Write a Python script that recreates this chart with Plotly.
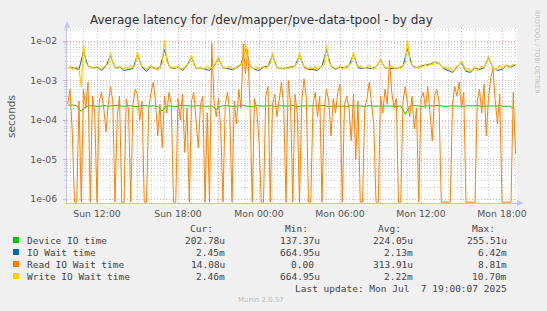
import plotly.graph_objects as go
import pandas as pd

# ---------------- data ----------------
# Write IO wait time, milliseconds, every 10 min from Sun 09:50
write_ms = [
    2.0, 2.3, 1.9, 2.1, 2.2, 2.0, 0.68, 8.0, 2.9, 2.4, 2.1, 2.2,
    2.0, 2.3, 2.1, 1.9, 2.2, 2.4, 2.6, 5.0, 2.8, 2.2, 2.0, 2.3,
    2.1, 1.9, 2.2, 2.0, 2.4, 2.1, 2.5, 5.2, 3.0, 2.3, 2.1, 1.9,
    2.2, 2.4, 2.0, 2.1, 1.8, 2.3, 2.6, 10.5, 3.2, 2.4, 2.0, 2.2,
    2.1, 2.3, 1.9, 2.0, 2.2, 2.5, 2.8, 4.4, 2.6, 2.1, 2.0, 2.2,
    1.9, 2.1, 2.3, 2.0, 2.2, 2.4, 2.9, 4.0, 2.7, 2.2, 2.0, 2.1,
    2.3, 2.0, 1.9, 2.2, 2.4, 2.6, 3.0, 9.0, 3.3, 2.5, 2.1, 2.0,
    2.2, 1.9, 2.1, 2.3, 2.0, 2.4, 2.7, 5.0, 2.8, 2.2, 2.0, 2.1,
    1.9, 2.2, 2.0, 2.3, 2.1, 2.4, 2.8, 5.0, 2.9, 2.3, 2.1, 2.0,
    2.2, 2.0, 2.3, 1.9, 2.1, 2.4, 2.6, 8.0, 3.1, 2.4, 2.2, 2.0,
    2.1, 2.3, 1.9, 2.2, 2.0, 2.5, 2.7, 5.3, 2.8, 2.2, 2.4, 2.1,
    2.0, 2.2, 2.5, 2.1, 1.9, 2.3, 2.6, 3.5, 2.6, 2.2, 2.0, 2.1,
    2.3, 2.1, 1.9, 2.2, 2.0, 2.4, 2.8, 10.7, 3.2, 2.5, 2.1, 2.2,
    2.0, 2.4, 2.2, 2.6, 2.3, 2.7, 2.5, 3.0, 2.6, 2.8, 2.3, 2.1,
    2.2, 1.9, 2.1, 1.7, 2.0, 2.3, 2.5, 3.1, 2.4, 1.8, 2.0, 1.7,
    1.9, 2.2, 1.8, 2.0, 2.3, 2.2, 2.7, 4.1, 2.8, 2.2, 1.9, 2.1,
    2.4, 2.0, 2.2, 2.5, 2.1, 2.3, 2.6, 2.46,
]

# Read IO wait time, microseconds, every 10 min from Sun 09:50 (0 = zero)
read_us = [
    250, 600, 50, 0, 0, 300, 0, 600, 200, 900,
    0, 400, 150, 0, 300, 500, 200, 50, 250, 700,
    300, 0, 120, 400, 0, 0, 350, 180, 0, 250,
    600, 450, 100, 300, 0, 0, 200, 500, 900, 300,
    40, 250, 20, 400, 150, 500, 250, 0, 0, 350,
    100, 450, 15, 200, 0, 300, 500, 100, 20, 250,
    400, 0, 150, 0, 8810, 300, 120, 350, 60, 0,
    250, 500, 150, 0, 300, 80, 600, 200, 8500, 1500,
    6000, 200, 0, 350, 180, 30, 0, 0, 400, 700,
    0, 250, 450, 120, 300, 900, 200, 0, 1000, 300,
    0, 450, 150, 0, 300, 1100, 400, 0, 0, 250,
    500, 120, 400, 0, 200, 600, 300, 40, 350, 150,
    500, 800, 0, 250, 400, 200, 30, 450, 10, 300,
    0, 0, 200, 350, 900, 250, 80, 0, 0, 400,
    150, 600, 250, 3300, 500, 200, 350, 0, 0, 300,
    700, 250, 120, 400, 60, 200, 0, 350, 500, 200,
    700, 150, 30, 400, 600, 300, 0, 0, 0, 0,
    0, 250, 700, 400, 900, 200, 500, 0, 0, 0,
    0, 0, 300, 600, 150, 800, 40, 350, 1200, 2000,
    300, 80, 450, 0, 0, 0, 0, 0, 500, 14.08,
]

# IO wait time, milliseconds, every 20 min from Sun 10:00
iowait_ms = [
    2.2, 2.0, 1.9, 5.5, 2.3, 2.1, 2.2, 1.8, 2.3, 4.2,
    2.1, 2.2, 1.8, 1.9, 2.0, 4.5, 2.2, 1.7, 2.3, 2.0,
    2.1, 6.0, 2.3, 2.0, 2.2, 1.8, 2.4, 3.9, 2.0, 2.1,
    1.9, 1.8, 2.3, 3.6, 2.1, 2.0, 1.9, 2.1, 2.5, 6.4,
    2.4, 1.9, 1.8, 2.2, 2.3, 4.4, 2.1, 2.0, 2.1, 2.2,
    2.3, 4.5, 2.2, 1.9, 1.9, 1.8, 2.3, 6.0, 2.3, 1.9,
    2.2, 2.1, 2.4, 4.6, 2.1, 2.0, 2.1, 2.0, 2.2, 3.3,
    2.1, 2.0, 2.0, 2.1, 2.3, 6.42, 2.4, 2.1, 2.3, 2.5,
    2.6, 2.9, 2.7, 2.0, 1.8, 1.6, 2.2, 2.9, 1.7, 1.6,
    2.1, 1.9, 2.1, 3.8, 2.1, 1.8, 1.9, 2.4, 2.2, 2.45,
]

# Device IO time, microseconds, every 20 min from Sun 09:50
device_us = [
    235, 242, 228, 165, 221, 230, 226, 219, 232, 224,
    228, 236, 222, 225, 231, 218, 227, 233, 224, 229,
    221, 168, 230, 226, 219, 234, 228, 222, 225, 231,
    227, 220, 229, 185, 224, 232, 226, 221, 228, 235,
    223, 218, 230, 227, 225, 233, 221, 229, 224, 226,
    232, 220, 227, 225, 230, 222, 228, 234, 219, 226,
    229, 224, 221, 231, 226, 228, 220, 233, 225, 227,
    222, 230, 226, 219, 228, 140, 224, 232, 227, 221,
    229, 226, 234, 224, 220, 228, 231, 225, 222, 230,
    227, 233, 221, 226, 229, 224, 232, 220, 226, 203,
]

legend_labels = ["Device IO time", "IO Wait time", "Read IO Wait time", "Write IO Wait time"]
legend_colors = ["#00CC00", "#0066B3", "#FF8000", "#FFCC00"]
cur_vals = ["202.78u", "2.45m", "14.08u", "2.46m"]
min_vals = ["137.37u", "664.95u", "0.00", "664.95u"]
avg_vals = ["224.05u", "2.13m", "313.91u", "2.22m"]
max_vals = ["255.51u", "6.42m", "8.81m", "10.70m"]

y_tickvals = [1e-6, 1e-5, 1e-4, 1e-3, 1e-2]
y_ticktext = ["1e-06", "1e-05", "1e-04", "1e-03", "1e-02"]
y_minor = [m * d for d in [1e-6, 1e-5, 1e-4, 1e-3, 1e-2] for m in range(2, 10)]

x_major = pd.date_range("2025-07-06 12:00", "2025-07-07 18:00", freq="3h")

# ---------------- geometry helpers ----------------
PL, PT, PW, PH = 67, 28, 450, 175   # plot area in px
W, H = 547, 311


def px(x):
    return (x - PL) / PW


def py(y):
    return (PT + PH - y) / PH


t10 = pd.date_range("2025-07-06 09:50", periods=len(write_ms), freq="10min")
t_blue = pd.date_range("2025-07-06 10:00", periods=len(iowait_ms), freq="20min")
t_green = pd.date_range("2025-07-06 09:50", periods=len(device_us), freq="20min")

ZERO_FLOOR = 10 ** -6.08   # zero values drawn at the bottom edge, as rrdtool does

fig = go.Figure()
fig.add_trace(go.Scatter(x=t_green, y=[v * 1e-6 for v in device_us], mode="lines",
                         line=dict(color=legend_colors[0], width=1)))
fig.add_trace(go.Scatter(x=t_blue, y=[v * 1e-3 for v in iowait_ms], mode="lines",
                         line=dict(color=legend_colors[1], width=1)))
fig.add_trace(go.Scatter(x=t10, y=[v * 1e-6 if v > 0 else ZERO_FLOOR for v in read_us], mode="lines",
                         line=dict(color=legend_colors[2], width=1)))
fig.add_trace(go.Scatter(x=t10, y=[v * 1e-3 for v in write_ms], mode="lines",
                         line=dict(color=legend_colors[3], width=1.2)))

major_grid = "#F0A8A8"
minor_grid = "#D0D0D0"
axis_col = "#C4C4F4"
tick_font = dict(family="DejaVu Sans", size=9.3, color="#555555")

fig.update_layout(
    width=W, height=H,
    margin=dict(l=PL, r=W - PL - PW, t=PT, b=H - PT - PH, pad=0),
    paper_bgcolor="#F0F0F0", plot_bgcolor="#FFFFFF",
    showlegend=False,
    xaxis=dict(
        type="date",
        range=["2025-07-06 09:46:40", "2025-07-07 19:06:40"],
        tickmode="array",
        tickvals=list(x_major),
        ticktext=[d.strftime("%a %H:%M") if d.hour % 6 == 0 else "" for d in x_major],
        showgrid=True, gridcolor=major_grid, griddash="1px,2px", gridwidth=1,
        minor=dict(tickmode="linear", tick0="2025-07-06 00:00", dtick=3600000,
                   showgrid=True, gridcolor=minor_grid, griddash="1px,2px", gridwidth=1),
        showline=True, linecolor=axis_col, linewidth=1,
        ticks="", zeroline=False, tickfont=tick_font, ticklabelstandoff=2,
    ),
    yaxis=dict(
        type="log",
        range=[-6.101, -1.671],
        tickmode="array", tickvals=y_tickvals, ticktext=y_ticktext,
        showgrid=True, gridcolor=major_grid, griddash="1px,2px", gridwidth=1,
        minor=dict(tickmode="array", tickvals=y_minor, showgrid=True, gridcolor=minor_grid,
                   griddash="1px,2px", gridwidth=1, ticks="outside", ticklen=2, tickcolor=minor_grid),
        showline=True, linecolor=axis_col, linewidth=1,
        ticks="outside", ticklen=3, tickcolor=major_grid,
        zeroline=False, tickfont=tick_font, ticklabelstandoff=4,
    ),
)

shapes = []
# axis arrows
shapes.append(dict(type="path", xref="paper", yref="paper",
                   path=f"M {px(64)} {py(28)} L {px(70)} {py(28)} L {px(67)} {py(21)} Z",
                   fillcolor=axis_col, line=dict(width=0)))
shapes.append(dict(type="path", xref="paper", yref="paper",
                   path=f"M {px(517)} {py(200)} L {px(517)} {py(206)} L {px(524)} {py(203)} Z",
                   fillcolor=axis_col, line=dict(width=0)))

annotations = []
annotations.append(dict(text="Average latency for /dev/mapper/pve-data-tpool - by day",
                        x=px(261), y=py(20), xref="paper", yref="paper", showarrow=False,
                        xanchor="center", yanchor="middle",
                        font=dict(family="DejaVu Sans", size=12, color="#333333")))
annotations.append(dict(text="seconds", x=px(11), y=py(117), xref="paper", yref="paper",
                        showarrow=False, textangle=-90, xanchor="center", yanchor="middle",
                        font=dict(family="DejaVu Sans", size=10.5, color="#555555")))
annotations.append(dict(text="RRDTOOL / TOBI OETIKER", x=px(537), y=py(52), xref="paper", yref="paper",
                        showarrow=False, textangle=90, xanchor="center", yanchor="middle",
                        font=dict(family="DejaVu Sans", size=6.5, color="#C0C0C0")))

mono = dict(family="DejaVu Sans Mono", size=9.5, color="#444444")


def txt(s, x, y, anchor):
    annotations.append(dict(text=s, x=px(x), y=py(y), xref="paper", yref="paper", showarrow=False,
                            xanchor=anchor, yanchor="middle", font=mono))


for head, xr in zip(["Cur:", "Min:", "Avg:", "Max:"], [215, 310, 403, 497]):
    txt(head, xr, 228, "right")

col_right = [227, 322, 415, 509]
for k, lab in enumerate(legend_labels):
    yrow = 240 + 12 * k
    shapes.append(dict(type="rect", xref="paper", yref="paper",
                       x0=px(13), x1=px(19), y0=py(yrow + 3), y1=py(yrow - 3),
                       fillcolor=legend_colors[k], line=dict(width=0)))
    txt(lab, 25, yrow, "left")
    for vals, xr in zip([cur_vals, min_vals, avg_vals, max_vals], col_right):
        v = vals[k]
        if v[-1].isdigit():
            v = v + "\u00a0"
        txt(v, xr, yrow, "right")

txt("Last update: Mon Jul\u00a0 7 19:00:07 2025", 509, 288, "right")
annotations.append(dict(text="Munin 2.0.57", x=px(261), y=py(300), xref="paper", yref="paper",
                        showarrow=False, xanchor="center", yanchor="middle",
                        font=dict(family="DejaVu Sans", size=7, color="#BBBBBB")))

fig.update_layout(shapes=shapes, annotations=annotations)
fig.write_html("out.html")
